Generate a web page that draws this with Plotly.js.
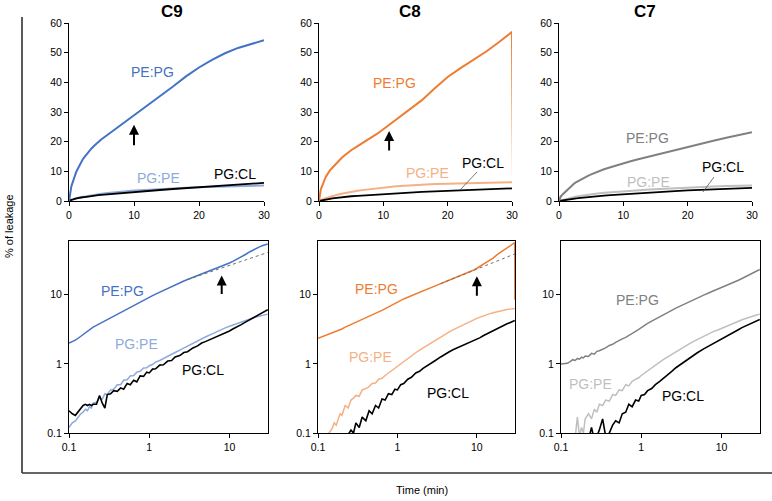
<!DOCTYPE html>
<html>
<head>
<meta charset="utf-8">
<script src="https://cdn.plot.ly/plotly-3.0.1.min.js"></script>
<style>html,body{margin:0;padding:0;background:#fff}#chart{width:772px;height:501px}</style>
</head>
<body>
<div id="chart"></div>
<script>
// ---- shared time points (min) ----
const t = [0.10,0.11,0.12,0.13,0.14,0.15,0.16,0.17,0.18,0.19,0.20,0.22,0.24,0.26,0.28,0.30,0.33,0.36,0.40,0.44,0.48,0.53,0.58,0.64,0.70,0.77,0.85,0.93,1.0,1.1,1.2,1.35,1.5,1.7,1.9,2.1,2.4,2.7,3.0,3.5,4,4.5,5,6,7,8,9,10,11,12,14,16,18,20,22,24,26,28,30];

// ---- C9 ----
const c9PePg = [2.0,2.1,2.2,2.35,2.5,2.7,2.85,3.0,3.1,3.2,3.4,3.6,3.8,4.0,4.2,4.4,4.7,4.9,5.2,5.5,5.9,6.3,6.7,7.1,7.5,7.9,8.4,8.8,9.2,9.7,10.2,10.9,11.6,12.4,13.2,14.0,14.9,15.8,16.6,17.8,18.9,19.9,20.8,22.4,24.0,25.6,27.2,28.8,30.4,32.0,35.2,38.6,42.0,45.0,47.6,49.8,51.6,53.0,54.2];
const c9PgPe = [0.12,0.14,0.15,0.17,0.19,0.2,0.22,0.21,0.24,0.23,0.27,0.28,0.32,0.31,0.37,0.36,0.42,0.43,0.5,0.5,0.58,0.59,0.67,0.68,0.76,0.78,0.87,0.88,0.94,0.98,1.06,1.12,1.2,1.3,1.38,1.46,1.58,1.7,1.8,1.98,2.15,2.3,2.45,2.7,2.95,3.15,3.35,3.5,3.65,3.8,4.05,4.3,4.5,4.65,4.8,4.95,5.05,5.15,5.25];
const c9PgCl = [0.21,0.19,0.18,0.2,0.22,0.25,0.26,0.25,0.26,0.25,0.26,0.26,0.35,0.27,0.23,0.36,0.37,0.41,0.4,0.45,0.43,0.52,0.5,0.58,0.55,0.67,0.66,0.76,0.74,0.84,0.85,0.96,0.97,1.1,1.12,1.26,1.32,1.46,1.5,1.7,1.82,2.0,2.1,2.3,2.5,2.7,2.85,3.0,3.2,3.35,3.7,4.05,4.35,4.65,4.95,5.25,5.5,5.8,6.1];
const c9DashT = [3, 30];
const c9DashV = [16.6, 41];

// ---- C8 ----
const c8PePg = [2.35,2.45,2.55,2.65,2.75,2.85,2.95,3.0,3.05,3.1,3.2,3.4,3.55,3.7,3.85,4.0,4.2,4.4,4.6,4.85,5.05,5.35,5.65,5.95,6.3,6.7,7.1,7.5,7.9,8.3,8.7,9.2,9.7,10.3,10.8,11.3,12.0,12.7,13.4,14.5,15.4,16.3,17.1,18.5,19.8,21.1,22.6,24.2,25.8,27.4,30.6,34.0,38.0,41.8,44.8,47.6,50.4,53.6,57.0];
const c8PePgTailT = [30.15];
const c8PePgTailV = [8.5];
const c8PgPe = [0.06,0.07,0.08,0.09,0.1,0.115,0.14,0.13,0.16,0.19,0.18,0.25,0.23,0.3,0.32,0.35,0.34,0.42,0.44,0.47,0.52,0.53,0.6,0.62,0.68,0.74,0.8,0.86,0.92,1.0,1.08,1.2,1.3,1.45,1.58,1.7,1.87,2.05,2.2,2.45,2.7,2.9,3.1,3.45,3.75,4.05,4.3,4.55,4.75,4.95,5.25,5.5,5.7,5.85,6.0,6.1,6.2,6.3,6.35];
const c8PgCl = [0.05,0.05,0.06,0.06,0.06,0.07,0.07,0.07,0.08,0.08,0.08,0.09,0.095,0.11,0.1,0.14,0.12,0.17,0.15,0.21,0.19,0.25,0.23,0.31,0.3,0.37,0.36,0.43,0.42,0.5,0.52,0.6,0.64,0.74,0.78,0.86,0.94,1.03,1.12,1.26,1.4,1.5,1.6,1.75,1.9,2.05,2.15,2.25,2.4,2.55,2.8,3.05,3.25,3.45,3.65,3.8,3.95,4.1,4.25];
const c8DashT = [3.5, 30];
const c8DashV = [14.5, 39];

// ---- C7 ----
const c7PePg = [1.0,1.0,1.02,1.08,1.15,1.12,1.2,1.17,1.25,1.22,1.3,1.28,1.42,1.38,1.52,1.55,1.62,1.7,1.85,1.92,2.05,2.15,2.3,2.42,2.6,2.75,2.95,3.15,3.35,3.6,3.85,4.15,4.45,4.85,5.2,5.5,5.95,6.4,6.8,7.4,8.0,8.5,9.0,9.9,10.7,11.4,12.1,12.7,13.3,13.9,15.0,16.1,17.2,18.3,19.3,20.3,21.3,22.3,23.2];
const c7PgPe = [0.06,0.065,0.07,0.075,0.08,0.085,0.17,0.09,0.12,0.1,0.16,0.19,0.16,0.22,0.2,0.26,0.25,0.3,0.29,0.36,0.35,0.42,0.41,0.5,0.48,0.56,0.6,0.63,0.68,0.74,0.8,0.88,0.96,1.06,1.16,1.25,1.38,1.5,1.62,1.8,1.97,2.12,2.26,2.52,2.75,2.96,3.1,3.25,3.42,3.58,3.85,4.1,4.35,4.55,4.73,4.88,5.02,5.14,5.25];
const c7PgCl = [0.04,0.04,0.045,0.045,0.05,0.05,0.05,0.055,0.055,0.06,0.06,0.08,0.12,0.08,0.09,0.11,0.16,0.09,0.1,0.13,0.15,0.14,0.19,0.2,0.26,0.24,0.3,0.29,0.35,0.36,0.41,0.44,0.5,0.56,0.63,0.68,0.78,0.88,0.96,1.1,1.23,1.35,1.45,1.65,1.83,2.0,2.15,2.3,2.45,2.6,2.85,3.1,3.35,3.55,3.75,3.95,4.1,4.25,4.4];

const seriesNames = ['PE:PG', 'PG:PE', 'PG:CL'];
const panelTitles = ['C9', 'C8', 'C7'];
const linearTicks = [0, 10, 20, 30];
const leakTicks = [0, 10, 20, 30, 40, 50, 60];
const logTicks = [0.1, 1, 10];
const logTickText = ['0.1', '1', '10'];

// ---- layout helpers ----
const W = 772, H = 501;
const PX = x => x / W;
const PY = y => 1 - y / H;
const FONT = 'Arial, "Liberation Sans", sans-serif';

const topX = [[69, 264], [319, 512], [559, 752]];
const botX = [[69, 268], [318, 515], [561, 760]];
const topY = [23, 201];
const botY = [241, 433];

const colors = [
  ['#4472C4', '#8FAADC', '#000000'],
  ['#ED7D31', '#F4B183', '#000000'],
  ['#808080', '#BFBFBF', '#000000']
];
const data3 = [
  [c9PePg, c9PgPe, c9PgCl],
  [c8PePg, c8PgPe, c8PgCl],
  [c7PePg, c7PgPe, c7PgCl]
];

const traces = [];
const layout = {
  width: W, height: H,
  margin: {l: 0, r: 0, t: 0, b: 0},
  paper_bgcolor: '#fff', plot_bgcolor: '#fff',
  showlegend: false,
  font: {family: FONT, size: 10.5, color: '#000'},
  annotations: [], shapes: []
};

const label = (text, x, y, size, color, extra) => Object.assign({text: text, xref: 'paper', yref: 'paper',
  x: PX(x), y: PY(y), xanchor: 'center', yanchor: 'middle', showarrow: false,
  font: {family: FONT, size: size, color: color}}, extra || {});

for (let p = 0; p < 3; p++) {
  const ti = p + 1, bi = p + 4;
  const tx = 'x' + ti, ty = 'y' + ti, bx = 'x' + bi, by = 'y' + bi;
  // draw order: PG:PE, PG:CL, PE:PG
  [1, 2, 0].forEach(s => {
    let xs = t.slice(), ys = data3[p][s].slice();
    if (p === 1 && s === 0) { xs = xs.concat(c8PePgTailT); ys = ys.concat(c8PePgTailV); }
    traces.push({x: [0].concat(xs), y: [0].concat(ys), xaxis: tx, yaxis: ty, type: 'scatter', mode: 'lines',
      name: seriesNames[s], line: {color: colors[p][s], width: s === 2 ? 1.8 : 2}, hoverinfo: 'skip'});
    traces.push({x: xs, y: ys, xaxis: bx, yaxis: by, type: 'scatter', mode: 'lines',
      name: seriesNames[s], line: {color: colors[p][s], width: s === 2 ? 1.6 : 1.5}, hoverinfo: 'skip'});
  });
  const axLine = {showline: true, linecolor: '#000', linewidth: 1, ticks: 'outside', ticklen: 4, tickcolor: '#000',
    showgrid: false, zeroline: false, tickfont: {family: FONT, size: 10.5, color: '#000'}};
  layout['xaxis' + ti] = Object.assign({}, axLine, {domain: [PX(topX[p][0]), PX(topX[p][1])], anchor: ty,
    range: [0, 30], tickvals: linearTicks});
  layout['yaxis' + ti] = Object.assign({}, axLine, {domain: [PY(topY[1]), PY(topY[0])], anchor: tx,
    range: [0, 60], tickvals: leakTicks});
  layout['xaxis' + bi] = Object.assign({}, axLine, {domain: [PX(botX[p][0]), PX(botX[p][1])], anchor: by,
    type: 'log', range: [-1, Math.log10(30.2)], tickvals: logTicks, ticktext: logTickText, mirror: true});
  layout['yaxis' + bi] = Object.assign({}, axLine, {domain: [PY(botY[1]), PY(botY[0])], anchor: bx,
    type: 'log', range: [-1, Math.log10(60)], tickvals: logTicks, ticktext: logTickText, mirror: true});

  layout.annotations.push(label('<b>' + panelTitles[p] + '</b>', [172, 410, 645][p], 11, 17, '#000'));
}

// dashed extrapolations
traces.push({x: c9DashT, y: c9DashV, xaxis: 'x4', yaxis: 'y4', type: 'scatter', mode: 'lines',
  line: {color: '#707070', width: 1, dash: 'dot'}, hoverinfo: 'skip'});
traces.push({x: c8DashT, y: c8DashV, xaxis: 'x5', yaxis: 'y5', type: 'scatter', mode: 'lines',
  line: {color: '#707070', width: 1, dash: 'dot'}, hoverinfo: 'skip'});

// series labels [panel][series] = [px x, px y] for top then bottom
const labelPosTop = [[[152, 72], [158, 178], [235, 174]], [[394, 83], [427, 173], [483, 163]], [[647, 138], [648, 182], [723, 167]]];
const labelPosBot = [[[122, 291], [136, 344], [203, 370]], [[376, 289], [370, 357], [448, 393]], [[637, 300], [590, 384], [683, 396]]];
for (let p = 0; p < 3; p++) {
  for (let s = 0; s < 3; s++) {
    [labelPosTop, labelPosBot].forEach(L => {
      layout.annotations.push(label(seriesNames[s], L[p][s][0], L[p][s][1], 14, colors[p][s]));
    });
  }
}

// arrows marking divergence
const arrow = (xr, yr, x, y, ay) => ({text: '', xref: xr, yref: yr, x: x, y: y, ax: 0, ay: ay, showarrow: true,
  arrowhead: 2, arrowsize: 1, arrowwidth: 2, arrowcolor: '#000'});
layout.annotations.push(arrow('x', 'y', 10, 25.7, 22));
layout.annotations.push(arrow('x2', 'y2', 10.9, 23.6, 21));
layout.annotations.push(arrow('x4', 'y4', Math.log10(8), Math.log10(19), 20));
layout.annotations.push(arrow('x5', 'y5', Math.log10(10), Math.log10(18.6), 21));

// axis titles
layout.annotations.push(label('% of leakage', 9, 226, 11, '#000', {textangle: -90}));
layout.annotations.push(label('Time (min)', 422, 490, 11, '#000'));

// leader lines and outer frame
layout.shapes.push({type: 'line', xref: 'paper', yref: 'paper', x0: PX(477), y0: PY(172), x1: PX(460), y1: PY(190), line: {color: '#555', width: 0.8}});
layout.shapes.push({type: 'line', xref: 'paper', yref: 'paper', x0: PX(714), y0: PY(177), x1: PX(703), y1: PY(192), line: {color: '#555', width: 0.8}});
layout.shapes.push({type: 'line', xref: 'paper', yref: 'paper', x0: PX(22), y0: PY(17), x1: PX(22), y1: PY(473), line: {color: '#000', width: 1.3}});
layout.shapes.push({type: 'line', xref: 'paper', yref: 'paper', x0: PX(22), y0: PY(473), x1: PX(772), y1: PY(473), line: {color: '#333', width: 1.5}});

Plotly.newPlot('chart', traces, layout, {staticPlot: true, displayModeBar: false});
</script>
</body>
</html>
